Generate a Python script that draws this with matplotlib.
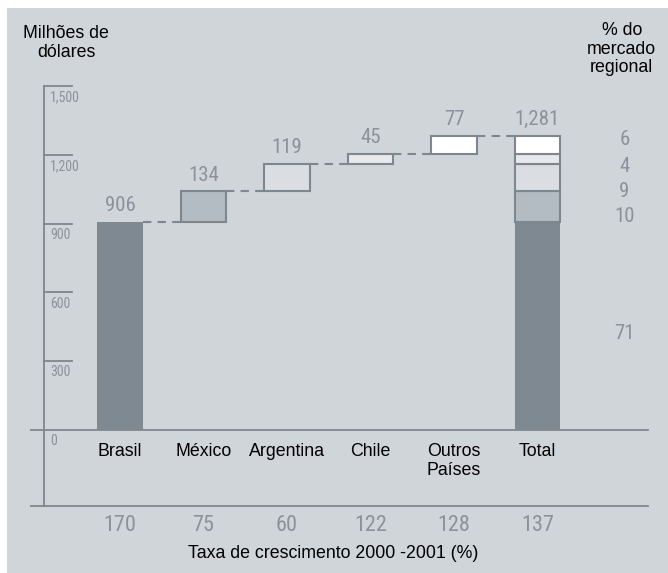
import matplotlib
matplotlib.use("Agg")
import matplotlib.pyplot as plt
from matplotlib.patches import Rectangle

# Data
countries = ["Brasil", "México", "Argentina", "Chile", "Outros\nPaíses"]
values = [906, 134, 119, 45, 77]
total_label = "Total"
total_value = 1281
shares = [71, 10, 9, 4, 6]
growth = [170, 75, 60, 122, 128, 137]
yticks = [0, 300, 600, 900, 1200, 1500]
ytick_labels = ["0", "300", "600", "900", "1,200", "1,500"]

fills = ["#7e8991", "#b3bcc2", "#dadee2", "#e8e9ed", "#ffffff"]
edge = "#7f878e"
num_color = "#8a929a"
bg = "#d0d5da"

narrow = ["Roboto Condensed", "Archivo Narrow", "Oswald", "DejaVu Sans"]
sans = ["Liberation Sans", "DejaVu Sans"]

fig = plt.figure(figsize=(6.68, 5.73), dpi=100)
fig.patch.set_facecolor("white")

ax = fig.add_axes([0, 0, 1, 1])
ax.set_facecolor("none")
ax.set_axis_off()
ax.set_xlim(-1.437, 6.563)
ax.set_ylim(-623.6, 1875)

# Grey panel behind the chart
ax.add_patch(Rectangle((7 / 668, 0), 1 - 7 / 668, 1 - 8 / 573,
                       transform=fig.transFigure, facecolor=bg,
                       edgecolor="none", zorder=0))

w = 0.55
ybottom = -331

# Value axis with ticks
ax.plot([-0.91, -0.91], [ybottom, 1500], color=edge, lw=1.3, zorder=2)
for t, lab in zip(yticks, ytick_labels):
    if t > 0:
        ax.plot([-0.91, -0.575], [t, t], color=edge, lw=1.3, zorder=2)
    ax.text(-0.84, t - 18, lab, ha="left", va="top", fontsize=10,
            family=narrow, color=num_color)

# Baseline and bottom rule
ax.plot([-1.066, 6.32], [0, 0], color=edge, lw=1.3, zorder=1)
ax.plot([-1.066, 6.32], [ybottom, ybottom], color=edge, lw=1.3, zorder=1)

# Waterfall bars
base = 0
tops = []
for i, v in enumerate(values):
    if i == 0:
        ax.bar(i, v, bottom=base, width=w, color=fills[i], edgecolor="none", zorder=3)
    else:
        ax.bar(i, v, bottom=base, width=w, color=fills[i], edgecolor=edge,
               linewidth=1.5, zorder=3)
    top = base + v
    ax.text(i, top + 30, f"{v:,}", ha="center", va="bottom", fontsize=15,
            family=narrow, color=num_color)
    tops.append(top)
    base = top

# Connectors
for i, top in enumerate(tops):
    ax.plot([i + w / 2, i + 1 - w / 2], [top, top], color=edge, lw=1.5,
            ls=(0, (4, 3)), zorder=2)

# Stacked total bar
ti = len(values)
base = 0
for i, v in enumerate(values):
    if i == 0:
        ax.bar(ti, v, bottom=base, width=w, color=fills[i], edgecolor="none", zorder=3)
    else:
        ax.bar(ti, v, bottom=base, width=w, color=fills[i], edgecolor=edge,
               linewidth=1.5, zorder=3)
    base += v
ax.text(ti, total_value + 30, f"{total_value:,}", ha="center", va="bottom",
        fontsize=15, family=narrow, color=num_color)

# Regional share labels
share_y = [419, 929, 1038, 1151, 1265]
for s, y in zip(shares, share_y):
    ax.text(6.04, y, str(s), ha="center", va="center", fontsize=15,
            family=narrow, color=num_color)

# Category labels
for i, c in enumerate(countries + [total_label]):
    ax.text(i, -58, c, ha="center", va="top", fontsize=12.8, family=sans,
            color="black", linespacing=1.12)

# Growth rates
for i, g in enumerate(growth):
    ax.text(i, -415, str(g), ha="center", va="center", fontsize=16,
            family=narrow, color=num_color)

ax.text(2.55, -537, "Taxa de crescimento 2000 -2001 (%)", ha="center",
        va="center", fontsize=12.8, family=sans, color="black")

ax.text(-0.647, 1688, "Milhões de\ndólares", ha="center", va="center",
        fontsize=12.8, family=sans, color="black", linespacing=1.12)
ax.text(6.01, 1661, "% do\nmercado\nregional", ha="center", va="center",
        fontsize=12.8, family=sans, color="black", linespacing=1.12)

fig.savefig("out.png", dpi=100, facecolor=fig.get_facecolor())
